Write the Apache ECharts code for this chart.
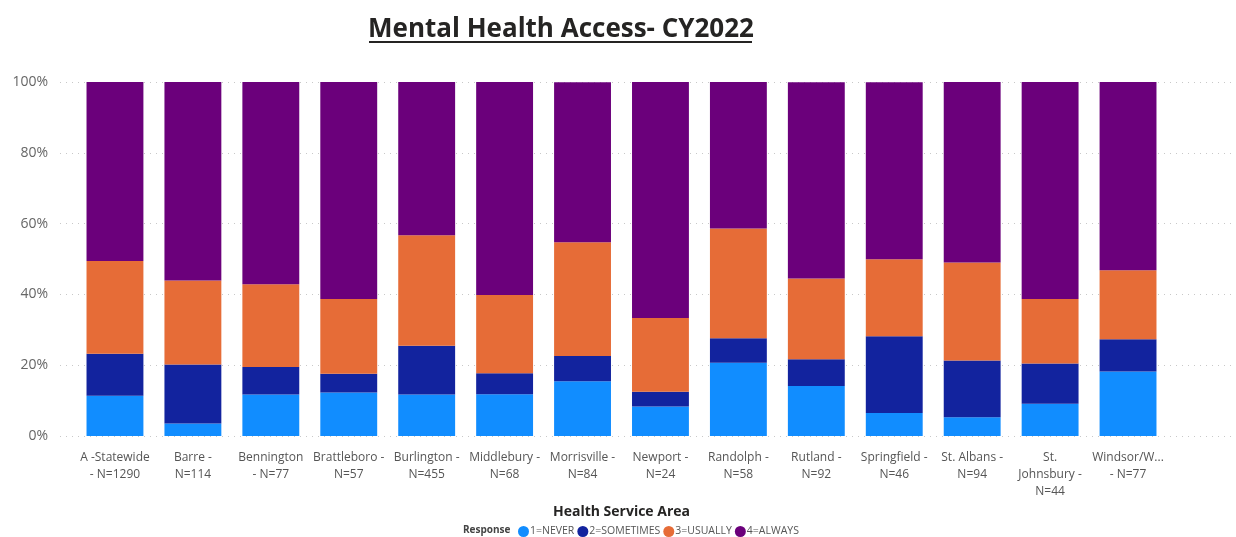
<!DOCTYPE html>
<html>
<head>
<meta charset="utf-8">
<script src="https://cdn.jsdelivr.net/npm/echarts@6/dist/echarts.min.js"></script>
<style>
  html, body { margin: 0; padding: 0; background: #fff; }
  #chart { width: 1236px; height: 537px; }
</style>
</head>
<body>
<div id="chart"></div>
<script>
const areas = [
  'A -Statewide\n- N=1290', 'Barre -\nN=114', 'Bennington\n- N=77', 'Brattleboro -\nN=57',
  'Burlington -\nN=455', 'Middlebury -\nN=68', 'Morrisville -\nN=84', 'Newport -\nN=24',
  'Randolph -\nN=58', 'Rutland -\nN=92', 'Springfield -\nN=46', 'St. Albans -\nN=94',
  'St.\nJohnsbury -\nN=44', 'Windsor/W...\n- N=77'
]
// percent of responses per area
const never     = [11.4, 3.5, 11.7, 12.3, 11.7, 11.8, 15.5, 8.3, 20.7, 14.1, 6.5, 5.3, 9.1, 18.2]
const sometimes = [11.8, 16.7, 7.8, 5.3, 13.8, 5.9, 7.1, 4.2, 6.9, 7.6, 21.7, 16.0, 11.4, 9.1]
const usually   = [26.2, 23.7, 23.4, 21.1, 31.2, 22.1, 32.1, 20.8, 31.0, 22.8, 21.7, 27.7, 18.2, 19.5]
const always    = [50.6, 56.1, 57.1, 61.4, 43.3, 60.3, 45.2, 66.7, 41.4, 55.4, 50.0, 51.1, 61.4, 53.2]
const yTicks = [0, 20, 40, 60, 80, 100]

const colors = ['#118DFF', '#12239E', '#E66C37', '#6B007B']
const names = ['1=NEVER', '2=SOMETIMES', '3=USUALLY', '4=ALWAYS']
const values = [never, sometimes, usually, always]

const chart = echarts.init(document.getElementById('chart'))

const series = values.map((v, i) => ({
  name: names[i],
  type: 'bar',
  stack: 'total',
  barCategoryGap: '27%',
  data: v,
  itemStyle: { color: colors[i] },
  emphasis: { disabled: true }
}))

chart.setOption({
  animation: false,
  title: {
    text: 'Mental Health Access- CY2022',
    left: 556,
    textAlign: 'center',
    top: 12,
    textStyle: { fontFamily: 'Open Sans', fontWeight: 'bold', fontSize: 26, color: '#252423' }
  },
  graphic: [{
    type: 'rect',
    shape: { x: 369, y: 41, width: 383, height: 2 },
    style: { fill: '#252423' }
  }, {
    type: 'text',
    left: 463,
    top: 525,
    style: { text: 'Response', font: 'bold 10px "Open Sans"', fill: '#444' }
  }],
  legend: {
    data: names,
    left: 518,
    top: 526,
    padding: 0,
    icon: 'circle',
    itemWidth: 11,
    itemHeight: 11,
    itemGap: 3,
    textStyle: { fontFamily: 'Open Sans', fontSize: 10.5, color: '#555', padding: [0, 0, 0, -4] }
  },
  grid: [
    { left: 76, right: 69, top: 82, bottom: 101 },
    { left: 60, right: 0, top: 82, bottom: 101 }
  ],
  xAxis: [{
    type: 'category',
    data: areas,
    gridIndex: 0,
    axisLine: { show: false },
    axisTick: { show: false },
    axisLabel: { interval: 0, fontFamily: 'Open Sans', fontSize: 12, color: '#555', lineHeight: 17, margin: 13 },
    name: 'Health Service Area',
    nameLocation: 'middle',
    nameGap: 67,
    nameTextStyle: { fontFamily: 'Open Sans', fontWeight: 'bold', fontSize: 14, color: '#252423' }
  }, {
    type: 'value',
    gridIndex: 1,
    show: false
  }],
  yAxis: [{
    type: 'value',
    gridIndex: 0,
    min: yTicks[0],
    max: yTicks[yTicks.length - 1],
    interval: 20,
    axisLabel: { formatter: '{value}%', fontFamily: 'Open Sans', fontSize: 14, color: '#666', margin: 28 },
    splitLine: { show: false },
    axisLine: { show: false },
    axisTick: { show: false }
  }, {
    type: 'value',
    gridIndex: 1,
    min: yTicks[0],
    max: yTicks[yTicks.length - 1],
    interval: 20,
    axisLabel: { show: false },
    splitLine: { show: true, lineStyle: { type: [1, 5], color: '#c8c8c8', width: 1 } },
    axisLine: { show: false },
    axisTick: { show: false },
    z: 0
  }],
  series: series
})
</script>
</body>
</html>
